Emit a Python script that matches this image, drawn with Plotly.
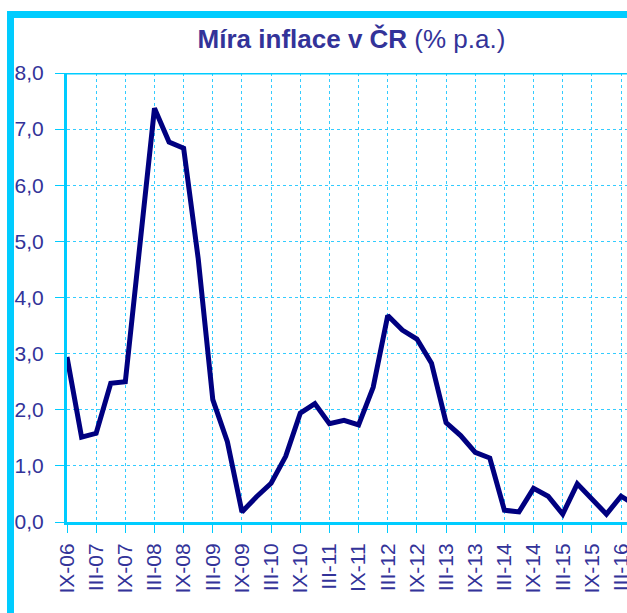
import plotly.graph_objects as go

# quarterly data points, IX-06 ... VI-16
quarter_index = list(range(40))
inflation = [2.94, 1.51, 1.58, 2.47, 2.50, 4.90, 7.37, 6.77, 6.66, 4.69,
             2.18, 1.43, 0.18, 0.45, 0.69, 1.17, 1.94, 2.11, 1.75, 1.81,
             1.73, 2.40, 3.68, 3.42, 3.26, 2.83, 1.77, 1.54, 1.24, 1.14,
             0.21, 0.18, 0.60, 0.46, 0.14, 0.68, 0.41, 0.14, 0.46, 0.30]

tick_positions = list(range(0, 40, 2))
tick_labels = ["IX-06", "III-07", "IX-07", "III-08", "IX-08", "III-09", "IX-09",
               "III-10", "IX-10", "III-11", "IX-11", "III-12", "IX-12", "III-13",
               "IX-13", "III-14", "IX-14", "III-15", "IX-15", "III-16"]

y_values = [0, 1, 2, 3, 4, 5, 6, 7, 8]
y_labels = ["0,0", "1,0", "2,0", "3,0", "4,0", "5,0", "6,0", "7,0", "8,0"]

NARROW = "Liberation Sans Narrow, Arial Narrow, Liberation Sans, sans-serif"
CYAN = "#00CCFF"
GRID = "#33CCFF"
TXT = "#333399"

W, H = 627, 613
L, R, T, B = 67, 0, 73, 91
pw = W - L - R
ph = H - T - B

def px_x(p):
    return (p - L) / pw

def px_y(p):
    return (H - B - p) / ph

fig = go.Figure()
fig.add_trace(go.Scatter(
    x=quarter_index, y=inflation, mode="lines",
    line=dict(color="#000080", width=5),
    hoverinfo="skip", showlegend=False,
))

fig.update_layout(
    width=W, height=H,
    margin=dict(l=L, r=R, t=T, b=B, pad=0, autoexpand=False),
    paper_bgcolor="white", plot_bgcolor="white",
    showlegend=False,
    title=dict(
        text="<b>Míra inflace v ČR</b> (% p.a.)",
        font=dict(family=NARROW, size=26, color=TXT),
        x=351.5 / W, xanchor="center", xref="container",
        y=1 - 39 / H, yanchor="middle", yref="container",
    ),
    xaxis=dict(
        range=[0, 38.41], automargin=False,
        tickmode="array", tickvals=tick_positions, ticktext=tick_labels,
        tickangle=-90, ticklabeloverflow="allow",
        tickfont=dict(family=NARROW, size=21, color=TXT),
        ticks="outside", ticklen=8, tickwidth=1, tickcolor=CYAN,
        ticklabelstandoff=2,
        showline=True, linecolor=CYAN, linewidth=3,
        showgrid=True, gridcolor=GRID, griddash="dot", gridwidth=1,
        zeroline=False,
    ),
    yaxis=dict(
        range=[0, 8], automargin=False,
        tickmode="array", tickvals=y_values, ticktext=y_labels,
        tickfont=dict(family=NARROW, size=21, color=TXT),
        ticks="outside", ticklen=9, tickwidth=1, tickcolor=CYAN,
        ticklabelstandoff=7, ticklabeloverflow="allow",
        showline=True, linecolor=CYAN, linewidth=3,
        showgrid=True, gridcolor=GRID, griddash="dot", gridwidth=1,
        zeroline=False,
    ),
    shapes=[
        # solid line along the top of the plot area
        dict(type="line", xref="x domain", yref="y", x0=0, x1=1, y0=8, y1=8,
             line=dict(color=CYAN, width=3), layer="above"),
        # outer frame (only top and left visible)
        dict(type="rect", xref="paper", yref="paper",
             x0=px_x(10.5), x1=px_x(720), y0=px_y(14.5), y1=px_y(700),
             line=dict(color=CYAN, width=7), fillcolor="rgba(0,0,0,0)",
             layer="above"),
    ],
)

fig.write_html(
    "out.html",
    config={"displayModeBar": False},
    post_script="document.body.style.margin='0';document.body.style.overflow='hidden';",
)
